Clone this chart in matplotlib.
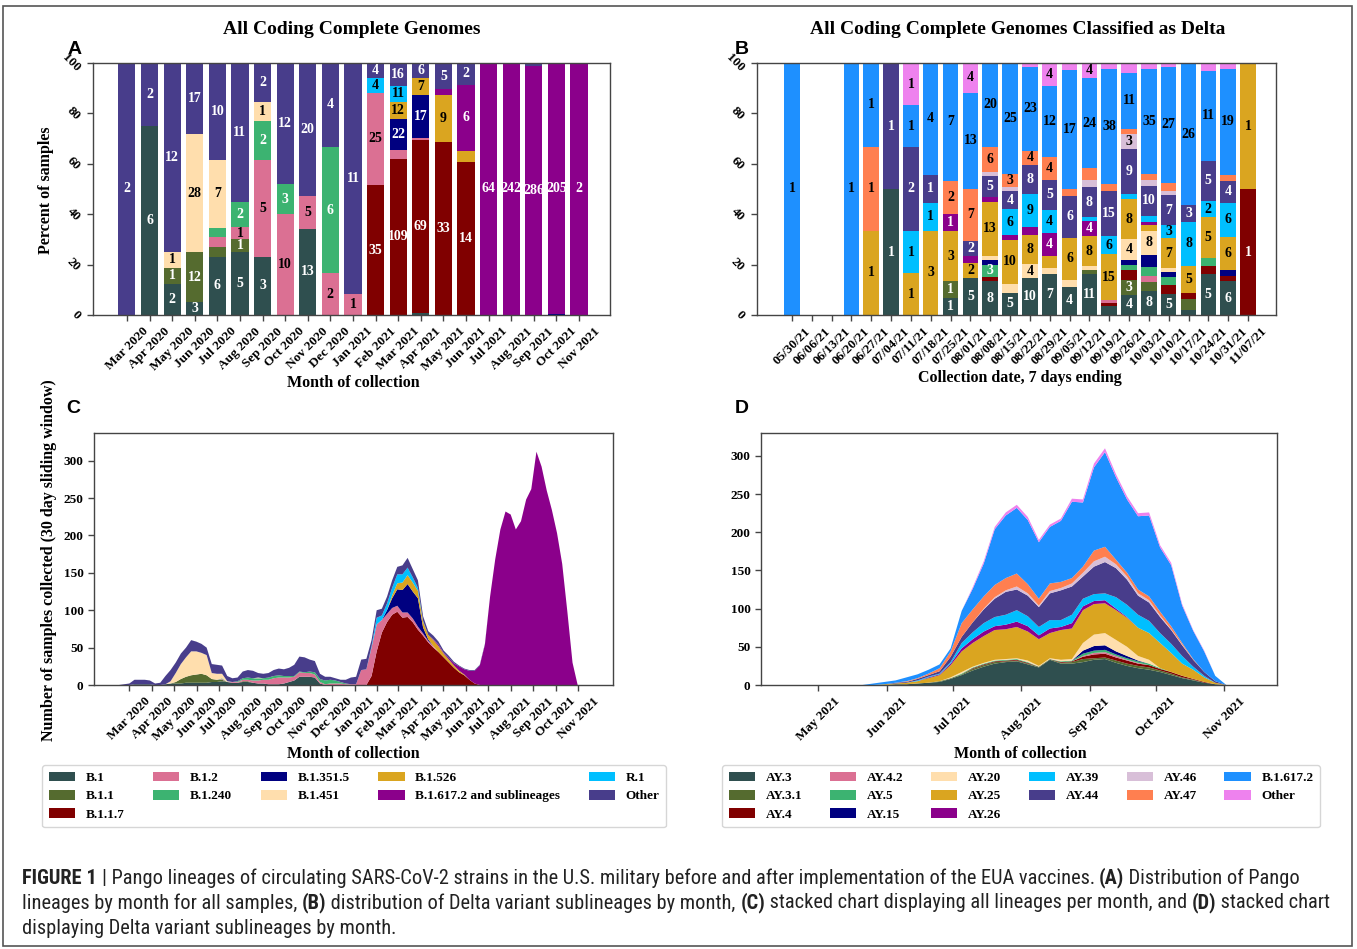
import matplotlib
matplotlib.use('Agg')
import matplotlib.pyplot as plt
import matplotlib.dates as mdates
from matplotlib.patches import Patch, Rectangle
from matplotlib import font_manager
import numpy as np
import pandas as pd

# ---------------------------------------------------------------- data A
months_A = ['Mar 2020', 'Apr 2020', 'May 2020', 'Jun 2020', 'Jul 2020', 'Aug 2020',
            'Sep 2020', 'Oct 2020', 'Nov 2020', 'Dec 2020', 'Jan 2021', 'Feb 2021',
            'Mar 2021', 'Apr 2021', 'May 2021', 'Jun 2021', 'Jul 2021', 'Aug 2021',
            'Sep 2021', 'Oct 2021', 'Nov 2021']
lineages_A = ['B.1', 'B.1.1', 'B.1.1.7', 'B.1.2', 'B.1.240', 'B.1.351.5', 'B.1.451',
              'B.1.526', 'B.1.617.2 and sublineages', 'R.1', 'Other']
A_B_1      = [0, 6, 2, 3, 6, 5, 3, 0, 13, 0, 0, 0, 0, 1, 0, 0, 0, 0, 0, 0, 0]
A_B_1_1    = [0, 0, 1, 12, 1, 1, 0, 0, 0, 0, 0, 0, 0, 0, 0, 0, 0, 0, 0, 0, 0]
A_B_1_1_7  = [0, 0, 0, 0, 0, 0, 0, 0, 0, 0, 0, 35, 109, 69, 33, 14, 0, 0, 0, 0, 0]
A_B_1_2    = [0, 0, 0, 0, 1, 1, 5, 10, 5, 2, 1, 25, 6, 1, 0, 0, 0, 0, 0, 0, 0]
A_B_1_240  = [0, 0, 0, 0, 1, 2, 2, 3, 0, 6, 0, 0, 0, 0, 0, 0, 0, 0, 0, 0, 0]
A_B_1_351_5 = [0, 0, 0, 0, 0, 0, 0, 0, 0, 0, 0, 0, 22, 17, 0, 0, 0, 0, 0, 1, 0]
A_B_1_451  = [0, 0, 1, 28, 7, 0, 1, 0, 0, 0, 0, 0, 0, 0, 0, 0, 0, 0, 0, 0, 0]
A_B_1_526  = [0, 0, 0, 0, 0, 0, 0, 0, 0, 0, 0, 0, 12, 7, 9, 1, 0, 0, 0, 0, 0]
A_B_1_617_2 = [0, 0, 0, 0, 0, 0, 0, 0, 0, 0, 0, 0, 0, 0, 1, 6, 64, 242, 286, 205, 2]
A_R_1      = [0, 0, 0, 0, 0, 0, 0, 0, 0, 0, 0, 4, 11, 0, 0, 0, 0, 0, 0, 0, 0]
A_Other    = [2, 2, 12, 17, 10, 11, 2, 12, 20, 4, 11, 4, 16, 6, 5, 2, 0, 0, 3, 0, 0]

# ---------------------------------------------------------------- data B
weeks_B = ['05/30/21', '06/06/21', '06/13/21', '06/20/21', '06/27/21', '07/04/21',
           '07/11/21', '07/18/21', '07/25/21', '08/01/21', '08/08/21', '08/15/21',
           '08/22/21', '08/29/21', '09/05/21', '09/12/21', '09/19/21', '09/26/21',
           '10/03/21', '10/10/21', '10/17/21', '10/24/21', '10/31/21', '11/07/21']
lineages_B = ['AY.3', 'AY.3.1', 'AY.4', 'AY.4.2', 'AY.5', 'AY.15', 'AY.20', 'AY.25',
              'AY.26', 'AY.39', 'AY.44', 'AY.46', 'AY.47', 'B.1.617.2', 'Other']
B_AY_3    = [0, 0, 0, 0, 0, 1, 0, 0, 1, 5, 8, 5, 10, 7, 4, 11, 3, 4, 8, 5, 1, 5, 6, 0]
B_AY_3_1  = [0, 0, 0, 0, 0, 0, 0, 0, 1, 0, 0, 0, 0, 0, 0, 1, 0, 3, 3, 0, 2, 0, 0, 0]
B_AY_4    = [0, 0, 0, 0, 0, 0, 0, 0, 0, 0, 1, 0, 0, 0, 0, 0, 1, 2, 0, 2, 1, 1, 1, 1]
B_AY_4_2  = [0, 0, 0, 0, 0, 0, 0, 0, 0, 0, 0, 0, 0, 0, 0, 0, 1, 0, 2, 0, 0, 0, 0, 0]
B_AY_5    = [0, 0, 0, 0, 0, 0, 0, 0, 0, 0, 3, 0, 0, 0, 0, 0, 0, 1, 3, 2, 0, 1, 0, 0]
B_AY_15   = [0, 0, 0, 0, 0, 0, 0, 0, 0, 0, 1, 0, 0, 0, 0, 0, 0, 1, 4, 1, 0, 0, 1, 0]
B_AY_20   = [0, 0, 0, 0, 0, 0, 0, 0, 0, 0, 1, 2, 4, 1, 1, 1, 0, 4, 8, 1, 0, 0, 0, 0]
B_AY_25   = [0, 0, 0, 0, 1, 0, 1, 3, 3, 2, 13, 10, 8, 2, 6, 8, 15, 8, 2, 7, 5, 5, 6, 1]
B_AY_26   = [0, 0, 0, 0, 0, 0, 0, 0, 1, 1, 1, 1, 2, 4, 0, 4, 0, 0, 1, 0, 0, 0, 0, 0]
B_AY_39   = [0, 0, 0, 0, 0, 0, 1, 1, 0, 0, 0, 6, 9, 4, 0, 1, 6, 1, 2, 3, 8, 2, 6, 0]
B_AY_44   = [0, 0, 0, 0, 0, 1, 2, 1, 0, 2, 5, 4, 8, 5, 6, 8, 15, 9, 10, 7, 3, 5, 4, 0]
B_AY_46   = [0, 0, 0, 0, 0, 0, 0, 0, 0, 0, 1, 1, 0, 0, 0, 2, 0, 3, 2, 1, 0, 0, 0, 0]
B_AY_47   = [0, 0, 0, 0, 1, 0, 0, 0, 2, 7, 6, 3, 4, 4, 1, 3, 2, 1, 2, 2, 0, 0, 1, 0]
B_B_1_617_2 = [1, 0, 0, 1, 1, 0, 1, 4, 7, 13, 20, 25, 23, 12, 17, 24, 38, 11, 35, 27, 26, 11, 19, 0]
B_Other   = [0, 0, 0, 0, 0, 0, 1, 0, 0, 4, 0, 0, 1, 4, 1, 4, 2, 2, 2, 1, 0, 1, 1, 0]

# ---------------------------------------------------------------- data C (weekly reads, from 2020-02-16)
C_B_1 = ([0, 0, 0, 1, 1, 1, 1, 0, 0, 1,
          2, 2, 2, 3, 3, 3, 3, 3, 4, 4,
          5, 4, 3, 3, 4, 4, 3, 2, 2, 1,
          1, 1, 2, 4, 6, 11, 11, 11, 10, 2] + [0] * 51)
C_B_1_1 = ([0] * 10 +
           [0, 2, 6, 8, 10, 11, 12, 10, 4, 3,
            2, 0, 0, 0, 1, 1, 0, 0, 0, 0] + [0] * 61)
C_B_1_1_7 = ([0] * 49 +
             [12, 45, 70, 84, 94, 98, 90, 91, 84, 74, 66,
              57, 50, 44, 37, 30, 23, 17, 13, 7, 2, 0] + [0] * 20)
C_B_1_2 = ([0] * 20 +
           [1, 0, 1, 1, 2, 2, 3, 4, 5, 6,
            8, 9, 8, 6, 5, 6, 5, 5, 4, 2,
            1, 2, 2, 2, 1, 1, 1, 20, 21, 38,
            36, 17, 11, 9, 8, 7, 6, 5, 4, 3,
            2, 2] + [0] * 29)
C_B_1_240 = ([0] * 20 +
             [1, 0, 0, 1, 2, 3, 3, 3, 2, 3,
              3, 3, 2, 2, 1, 1, 1, 2, 3, 4,
              5, 5, 4, 2, 1, 0, 0] + [0] * 44)
C_B_1_351_5 = [0] * 52 + [5, 13, 22, 30, 38, 36, 38, 8, 2] + [0] * 30
C_B_1_451 = ([0] * 10 + [3, 12, 20, 26, 32, 31, 28, 27, 8, 8, 6, 1] +
             [0, 0, 0, 0, 0, 1] + [0] * 63)
C_B_1_526 = [0] * 53 + [4, 8, 10, 12, 12, 10, 8, 6, 8, 8, 5, 4, 3, 2, 1] + [0] * 23
C_B_1_617_2 = ([0] * 61 + [1, 2, 1, 2, 3, 6, 7, 12, 17] +
               [26, 54, 118, 168, 208, 232, 228, 208, 219, 248,
                262, 312, 292, 260, 234, 203, 162, 98, 30] + [0, 0])
C_R_1 = [0] * 49 + [2, 9, 6, 9, 10, 12, 11, 10, 7, 4, 1] + [0] * 31
C_Other = ([0, 1, 2, 6, 6, 6, 5, 2, 3, 11,
            15, 14, 14, 13, 15, 13, 12, 10, 12, 12,
            11, 7, 5, 5, 9, 10, 10, 6, 6, 6,
            8, 9, 9, 11, 15, 20, 20, 16, 15, 7,
            5, 4, 3, 3, 5, 9, 10, 14, 14, 8,
            10, 9, 9, 10, 10, 12, 13, 11, 10, 6,
            5, 5, 4, 3, 3, 2, 1, 1, 1, 1,
            1, 1] + [0] * 19)
C_dates = pd.date_range('2020-02-16', periods=91, freq='7D')

# ---------------------------------------------------------------- data D (5-day reads, from 2021-05-16)
D_AY_3   = [0, 0, 0, 0, 1, 1, 2, 3, 4, 8, 13, 19, 24, 28, 30, 31, 27, 23, 33, 28, 28, 30, 33, 34, 29, 25, 22, 20, 17, 13, 9, 6, 3, 1, 0]
D_AY_3_1 = [0, 0, 0, 0, 0, 0, 0, 0, 1, 1, 1, 2, 2, 2, 1, 1, 1, 1, 1, 1, 2, 4, 2, 2, 3, 3, 3, 3, 2, 2, 1, 1, 0, 0, 0]
D_AY_4   = [0, 0, 0, 0, 0, 0, 0, 0, 0, 0, 0, 1, 1, 1, 1, 1, 1, 0, 0, 1, 1, 3, 5, 5, 4, 4, 3, 3, 2, 2, 2, 1, 1, 0, 0]
D_AY_4_2 = [0, 0, 0, 0, 0, 0, 0, 0, 0, 0, 0, 0, 0, 0, 0, 0, 0, 0, 0, 0, 0, 1, 2, 2, 2, 1, 1, 0, 0, 0, 0, 0, 0, 0, 0]
D_AY_5   = [0, 0, 0, 0, 0, 0, 0, 0, 0, 0, 1, 1, 1, 1, 1, 1, 1, 0, 0, 1, 1, 3, 3, 3, 2, 2, 2, 2, 1, 0, 0, 0, 0, 0, 0]
D_AY_15  = [0, 0, 0, 0, 0, 0, 0, 0, 0, 0, 0, 0, 0, 0, 0, 0, 0, 0, 0, 0, 0, 4, 6, 6, 4, 3, 1, 0, 0, 0, 0, 0, 0, 0, 0]
D_AY_20  = [0, 0, 0, 0, 0, 0, 0, 0, 0, 1, 2, 1, 1, 1, 1, 1, 2, 1, 1, 2, 2, 10, 15, 16, 15, 12, 6, 5, 0, 0, 0, 0, 0, 0, 0]
D_AY_25  = [0, 0, 0, 1, 1, 2, 3, 6, 8, 16, 27, 31, 35, 39, 39, 41, 38, 35, 33, 39, 40, 43, 40, 39, 39, 38, 37, 35, 33, 25, 16, 12, 6, 2, 0]
D_AY_26  = [0, 0, 0, 0, 0, 0, 0, 1, 1, 2, 4, 5, 6, 5, 6, 7, 7, 5, 6, 4, 7, 5, 4, 4, 2, 1, 0, 0, 0, 0, 0, 0, 0, 0, 0]
D_AY_39  = [0, 0, 0, 0, 0, 0, 1, 1, 1, 2, 7, 9, 11, 12, 13, 15, 13, 11, 11, 9, 11, 10, 9, 9, 15, 16, 17, 16, 13, 12, 10, 4, 2, 0, 0]
D_AY_44  = [0, 0, 0, 0, 1, 1, 2, 2, 3, 7, 8, 13, 18, 24, 30, 27, 27, 26, 35, 39, 37, 29, 36, 41, 38, 33, 25, 24, 21, 18, 14, 9, 5, 2, 0]
D_AY_46  = [0, 0, 0, 0, 0, 0, 0, 0, 0, 0, 0, 0, 1, 2, 2, 4, 3, 2, 3, 3, 4, 5, 7, 7, 5, 4, 3, 3, 2, 1, 1, 0, 0, 0, 0]
D_AY_47  = [0, 0, 0, 0, 0, 1, 1, 2, 4, 7, 18, 17, 16, 16, 16, 17, 12, 9, 10, 8, 7, 8, 14, 13, 6, 5, 5, 5, 5, 4, 2, 1, 0, 0, 0]
D_B_1_617_2 = [0, 0, 2, 3, 3, 5, 5, 5, 5, 4, 16, 27, 43, 73, 82, 86, 84, 74, 74, 80, 100, 84, 109, 124, 108, 96, 96, 106, 84, 80, 49, 37, 27, 7, 0]
D_Other  = [0, 0, 0, 0, 0, 0, 0, 0, 0, 0, 0, 2, 3, 3, 4, 4, 4, 3, 3, 3, 4, 4, 5, 5, 4, 4, 4, 4, 3, 3, 2, 1, 1, 0, 0]
D_dates = pd.date_range('2021-05-16', periods=35, freq='5D')

# ---------------------------------------------------------------- colours
col_A = {'B.1': '#2F4F4F', 'B.1.1': '#556B2F', 'B.1.1.7': '#800000', 'B.1.2': '#DB7093',
         'B.1.240': '#3CB371', 'B.1.351.5': '#000080', 'B.1.451': '#FFDEAD',
         'B.1.526': '#DAA520', 'B.1.617.2 and sublineages': '#8B008B', 'R.1': '#00BFFF',
         'Other': '#483D8B'}
col_B = {'AY.3': '#2F4F4F', 'AY.3.1': '#556B2F', 'AY.4': '#800000', 'AY.4.2': '#DB7093',
         'AY.5': '#3CB371', 'AY.15': '#000080', 'AY.20': '#FFDEAD', 'AY.25': '#DAA520',
         'AY.26': '#8B008B', 'AY.39': '#00BFFF', 'AY.44': '#483D8B', 'AY.46': '#D8BFD8',
         'AY.47': '#FF7F50', 'B.1.617.2': '#1E90FF', 'Other': '#EE82EE'}
white_A = {'B.1', 'B.1.1', 'B.1.1.7', 'B.1.240', 'B.1.351.5', 'B.1.617.2 and sublineages', 'Other'}
white_B = {'AY.3', 'AY.3.1', 'AY.4', 'AY.5', 'AY.15', 'AY.26', 'AY.44'}

series_A = [A_B_1, A_B_1_1, A_B_1_1_7, A_B_1_2, A_B_1_240, A_B_1_351_5, A_B_1_451,
            A_B_1_526, A_B_1_617_2, A_R_1, A_Other]
series_B = [B_AY_3, B_AY_3_1, B_AY_4, B_AY_4_2, B_AY_5, B_AY_15, B_AY_20, B_AY_25,
            B_AY_26, B_AY_39, B_AY_44, B_AY_46, B_AY_47, B_B_1_617_2, B_Other]
series_C = [C_B_1, C_B_1_1, C_B_1_1_7, C_B_1_2, C_B_1_240, C_B_1_351_5, C_B_1_451,
            C_B_1_526, C_B_1_617_2, C_R_1, C_Other]
series_D = [D_AY_3, D_AY_3_1, D_AY_4, D_AY_4_2, D_AY_5, D_AY_15, D_AY_20, D_AY_25,
            D_AY_26, D_AY_39, D_AY_44, D_AY_46, D_AY_47, D_B_1_617_2, D_Other]

# ---------------------------------------------------------------- figure
SERIF = 'Liberation Serif'
plt.rcParams['font.family'] = [SERIF, 'DejaVu Serif']
plt.rcParams['font.weight'] = 'bold'
plt.rcParams['axes.edgecolor'] = '#444444'
plt.rcParams['axes.linewidth'] = 1.0

W, H = 1357, 949
fig = plt.figure(figsize=(W / 100, H / 100), dpi=100)
fig.patch.set_facecolor('white')


def rect(l, t, r, b):
    return [l / W, 1 - b / H, (r - l) / W, (b - t) / H]


def ftext(x, y, s, **kw):
    return fig.text(x / W, 1 - y / H, s, **kw)


def style_ticks(ax):
    ax.tick_params(axis='both', direction='out', length=4, width=1, color='#444444')


def stacked_bars(ax, cats, series, names, colors, whites, width):
    x = np.arange(len(cats))
    arr = np.array(series, dtype=float)
    totals = arr.sum(axis=0)
    safe = np.where(totals > 0, totals, 1)
    bottom = np.zeros(len(cats))
    for name, vals in zip(names, arr):
        pct = np.where(totals > 0, vals / safe * 100, 0)
        ax.bar(x, pct, width, bottom=bottom, color=colors[name], linewidth=0)
        for i in range(len(cats)):
            if vals[i] > 0 and pct[i] >= 4.9:
                ax.text(x[i], bottom[i] + pct[i] / 2, str(int(vals[i])), ha='center',
                        va='center', fontsize=10, fontweight='bold',
                        color='white' if name in whites else 'black')
        bottom += pct
    ax.set_xticks(x)
    ax.set_xticklabels(cats, rotation=45, ha='center', fontsize=9.5)
    ax.set_ylim(0, 100)
    ax.set_yticks([0, 20, 40, 60, 80, 100])
    ax.set_yticklabels(['0', '20', '40', '60', '80', '100'], rotation=-45, fontsize=9.5,
                       va='center', ha='right')
    style_ticks(ax)


# Panel A
axA = fig.add_axes(rect(93, 63, 610, 315))
stacked_bars(axA, months_A, series_A, lineages_A, col_A, white_A, 0.76)
axA.set_xlim(-1.5, len(months_A) - 1 + 1.37)

# Panel B
axB = fig.add_axes(rect(757, 63, 1276, 315))
stacked_bars(axB, weeks_B, series_B, lineages_B, col_B, white_B, 0.78)
axB.set_xlim(-1.76, len(weeks_B) - 1 + 1.41)

# Panel C
axC = fig.add_axes(rect(94, 433, 613, 685))
axC.stackplot(C_dates, np.array(series_C, float), colors=[col_A[n] for n in lineages_A],
              linewidth=0)
axC.set_xlim(pd.Timestamp('2020-01-13'), pd.Timestamp('2021-12-18'))
axC.set_ylim(0, 337)
axC.set_yticks([0, 50, 100, 150, 200, 250, 300])
axC.xaxis.set_major_formatter(mdates.DateFormatter('%b %Y'))
axC.set_xticks(pd.date_range('2020-03-01', '2021-11-01', freq='MS'))
plt.setp(axC.get_xticklabels(), rotation=45, ha='center', fontsize=9.5)
plt.setp(axC.get_yticklabels(), fontsize=9.5)
style_ticks(axC)

# Panel D
axD = fig.add_axes(rect(761, 433, 1277, 685))
axD.stackplot(D_dates, np.array(series_D, float), colors=[col_B[n] for n in lineages_B],
              linewidth=0)
axD.set_xlim(pd.Timestamp('2021-04-05'), pd.Timestamp('2021-11-25'))
axD.set_ylim(0, 330)
axD.set_yticks([0, 50, 100, 150, 200, 250, 300])
axD.xaxis.set_major_formatter(mdates.DateFormatter('%b %Y'))
axD.set_xticks(pd.date_range('2021-05-01', '2021-11-01', freq='MS'))
plt.setp(axD.get_xticklabels(), rotation=45, ha='center', fontsize=9.5)
plt.setp(axD.get_yticklabels(), fontsize=9.5)
style_ticks(axD)

# Titles, axis labels, panel letters
ftext(352, 30, 'All Coding Complete Genomes', ha='center', va='center', fontsize=14,
      fontweight='bold')
ftext(1018, 30, 'All Coding Complete Genomes Classified as Delta', ha='center',
      va='center', fontsize=14, fontweight='bold')
ftext(353, 383, 'Month of collection', ha='center', va='center', fontsize=11.5)
ftext(1020, 378, 'Collection date, 7 days ending', ha='center', va='center', fontsize=11.5)
ftext(353, 754, 'Month of collection', ha='center', va='center', fontsize=11.5)
ftext(1020, 754, 'Month of collection', ha='center', va='center', fontsize=11.5)
ftext(46, 190, 'Percent of samples', ha='center', va='center', rotation=90, fontsize=11.5)
ftext(49, 560, 'Number of samples collected (30 day sliding window)', ha='center',
      va='center', rotation=90, fontsize=11.5)
for letter, x, y in [('A', 75, 50), ('B', 742, 50), ('C', 73, 408), ('D', 742, 408)]:
    ftext(x, y, letter, ha='center', va='center', fontsize=14, fontweight='bold',
          family=['Liberation Sans', 'DejaVu Sans'])

# Legends
leg_kw = dict(mode='expand', loc='upper left', borderaxespad=0.0,
              prop={'family': SERIF, 'weight': 'bold', 'size': 9.5},
              handlelength=2.0, handleheight=0.75, handletextpad=0.8,
              labelspacing=0.45, borderpad=0.5, fancybox=True, edgecolor='#cccccc')
hC = [Patch(facecolor=col_A[n], edgecolor='none') for n in lineages_A]
fig.legend(hC, lineages_A, ncol=5,
           bbox_to_anchor=(42 / W, 1 - 830 / H, (666 - 42) / W, (830 - 765) / H), **leg_kw)
hD = [Patch(facecolor=col_B[n], edgecolor='none') for n in lineages_B]
fig.legend(hD, lineages_B, ncol=6,
           bbox_to_anchor=(722 / W, 1 - 830 / H, (1320 - 722) / W, (830 - 765) / H), **leg_kw)

# Outer frame
fig.patches.append(Rectangle((3 / W, 1 - 946 / H), (1352 - 3) / W, (946 - 6) / H,
                             transform=fig.transFigure, fill=False, lw=1.2,
                             ec='#555555'))

# Caption (condensed sans if one is installed)
cap_family, cap_stretch = 'Liberation Sans', 'normal'
entries = font_manager.fontManager.ttflist
names = {f.name for f in entries}
for cand in ['Liberation Sans Narrow', 'Roboto Condensed', 'Open Sans Condensed',
             'Noto Sans Condensed', 'DejaVu Sans Condensed']:
    if cand in names:
        cap_family = cand
        break
else:
    for f in entries:
        if f.name in ('DejaVu Sans', 'Noto Sans', 'Roboto', 'Open Sans', 'Liberation Sans') \
                and str(f.stretch) in ('condensed', 'semi-condensed', 'extra-condensed'):
            cap_family, cap_stretch = f.name, f.stretch
            break

renderer = fig.canvas.get_renderer()

caption_lines = [
    [('FIGURE 1 ', True), ('| Pango lineages of circulating SARS-CoV-2 strains in the U.S. military before and after implementation of the EUA vaccines. ', False),
     ('(A)', True), (' Distribution of Pango', False)],
    [('lineages by month for all samples, ', False), ('(B)', True),
     (' distribution of Delta variant sublineages by month, ', False), ('(C)', True),
     (' stacked chart displaying all lineages per month, and ', False), ('(D)', True),
     (' stacked chart', False)],
    [('displaying Delta variant sublineages by month.', False)],
]


def seg_width(s, bold, fs):
    kw = dict(fontsize=fs, family=cap_family, fontstretch=cap_stretch,
              fontweight='bold' if bold else 'normal')
    t1 = fig.text(0, 0, '|' + s + '|', **kw)
    t2 = fig.text(0, 0, '||', **kw)
    w = t1.get_window_extent(renderer).width - t2.get_window_extent(renderer).width
    t1.remove()
    t2.remove()
    return w


base = 10.0
w1 = sum(seg_width(s, b, base) for s, b in caption_lines[0])
w2 = sum(seg_width(s, b, base) for s, b in caption_lines[1])
cap_fs = base * min(1280.0 / w1, 1298.0 / w2)
for line, yy in zip(caption_lines, [878, 903, 928]):
    x = 22.0
    for s, b in line:
        ftext(x, yy, s, ha='left', va='center', fontsize=cap_fs, family=cap_family,
              fontstretch=cap_stretch, fontweight='bold' if b else 'normal',
              color='#222222')
        x += seg_width(s, b, cap_fs)

fig.savefig('out.png', dpi=100)
